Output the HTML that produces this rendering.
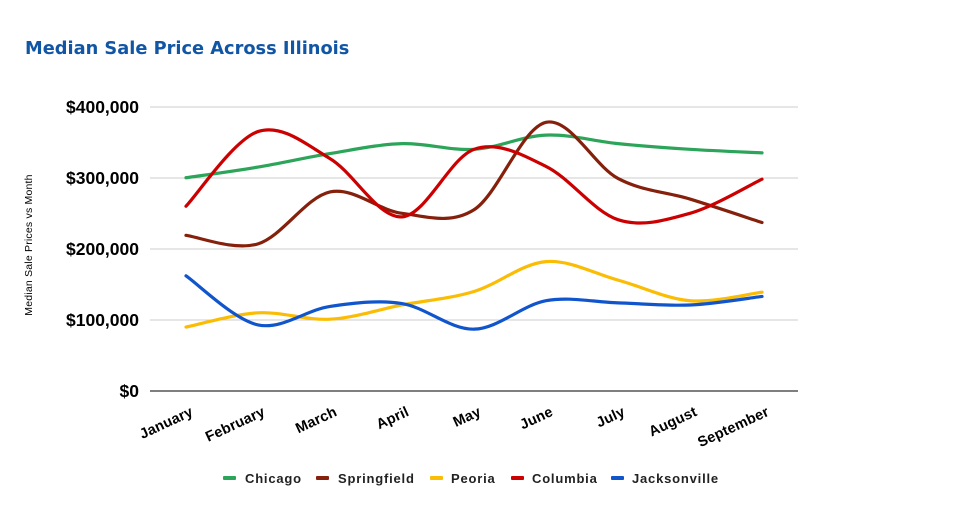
<!DOCTYPE html>
<html>
<head>
<meta charset="utf-8">
<style>
  html,body{margin:0;padding:0;background:#fff;}
  svg{display:block;}
  text{font-family:"Liberation Sans", Arial, sans-serif;}
</style>
</head>
<body>
<svg id="chart" width="956" height="507" viewBox="0 0 956 507" xmlns="http://www.w3.org/2000/svg">
  <rect width="956" height="507" fill="#fff"/>
  <!-- Title -->
  <text x="25" y="54" font-size="17.8" font-weight="bold" fill="#1155a5" style="font-family:'DejaVu Sans','Liberation Sans',sans-serif;">Median Sale Price Across Illinois</text>

  <!-- Gridlines -->
  <g stroke="#cccccc" stroke-width="1">
    <line x1="150" y1="107" x2="798" y2="107"/>
    <line x1="150" y1="178" x2="798" y2="178"/>
    <line x1="150" y1="249" x2="798" y2="249"/>
    <line x1="150" y1="320" x2="798" y2="320"/>
  </g>
  <line x1="150" y1="391" x2="798" y2="391" stroke="#333" stroke-width="1.3"/>

  <!-- Y labels -->
  <g font-size="17.5" font-weight="bold" fill="#000" text-anchor="end">
    <text x="139" y="113">$400,000</text>
    <text x="139" y="184">$300,000</text>
    <text x="139" y="255">$200,000</text>
    <text x="139" y="326">$100,000</text>
    <text x="139" y="397">$0</text>
  </g>

  <!-- Y axis title -->
  <text x="0" y="0" font-size="10.5" fill="#000" text-anchor="middle" letter-spacing="0.2" transform="translate(32,245) rotate(-90)">Median Sale Prices vs Month</text>

  <!-- X labels -->
  <g font-size="14.5" font-weight="bold" fill="#000" text-anchor="end" letter-spacing="0.2">
    <text transform="translate(194,415) rotate(-25)">January</text>
    <text transform="translate(266,415) rotate(-25)">February</text>
    <text transform="translate(338,415) rotate(-25)">March</text>
    <text transform="translate(410,415) rotate(-25)">April</text>
    <text transform="translate(482,415) rotate(-25)">May</text>
    <text transform="translate(554,415) rotate(-25)">June</text>
    <text transform="translate(626,415) rotate(-25)">July</text>
    <text transform="translate(698,415) rotate(-25)">August</text>
    <text transform="translate(770,415) rotate(-25)">September</text>
  </g>

  <g id="series" fill="none" stroke-width="3.2" stroke-linecap="round" stroke-linejoin="round"></g>

  <!-- Legend -->
  <g font-size="13" font-weight="bold" fill="#222" letter-spacing="0.8">
    <rect x="223" y="476" width="13" height="4" rx="1" fill="#2ca55a"/>
    <text x="245" y="483">Chicago</text>
    <rect x="316" y="476" width="13" height="4" rx="1" fill="#85200c"/>
    <text x="338" y="483">Springfield</text>
    <rect x="430" y="476" width="13" height="4" rx="1" fill="#fbbc04"/>
    <text x="451" y="483">Peoria</text>
    <rect x="511" y="476" width="13" height="4" rx="1" fill="#cc0000"/>
    <text x="532" y="483">Columbia</text>
    <rect x="611" y="476" width="13" height="4" rx="1" fill="#1155cc"/>
    <text x="632" y="483">Jacksonville</text>
  </g>
</svg>
<script>
(function(){
  var xs=[186,258,330,402,474,546,618,690,762];
  function Y(v){return 391 - v*0.7108;}
  var series=[
    {c:"#2ca55a",d:[300,315,334,348,340,360,348,340,335]},
    {c:"#85200c",d:[219,207,280,250,255,378,299,270,237]},
    {c:"#fbbc04",d:[90,110,101,121,140,182,156,127,139]},
    {c:"#cc0000",d:[260,365,327,245,340,316,241,250,298]},
    {c:"#1155cc",d:[162,93,119,123,87,127,124,121,133]}
  ];
  var g=document.getElementById("series");
  series.forEach(function(s){
    var p=s.d.map(function(v,i){return [xs[i],Y(v)];});
    var n=p.length;
    var d="M"+p[0][0].toFixed(2)+","+p[0][1].toFixed(2);
    for(var i=0;i<n-1;i++){
      var p0=p[i>0?i-1:i],p1=p[i],p2=p[i+1],p3=p[i+2<n?i+2:i+1];
      var c1=[p1[0]+(p2[0]-p0[0])/6,p1[1]+(p2[1]-p0[1])/6];
      var c2=[p2[0]-(p3[0]-p1[0])/6,p2[1]-(p3[1]-p1[1])/6];
      d+=" C"+c1[0].toFixed(2)+","+c1[1].toFixed(2)+" "+c2[0].toFixed(2)+","+c2[1].toFixed(2)+" "+p2[0].toFixed(2)+","+p2[1].toFixed(2);
    }
    var path=document.createElementNS("http://www.w3.org/2000/svg","path");
    path.setAttribute("d",d);
    path.setAttribute("stroke",s.c);
    g.appendChild(path);
  });
})();
</script>
</body>
</html>
